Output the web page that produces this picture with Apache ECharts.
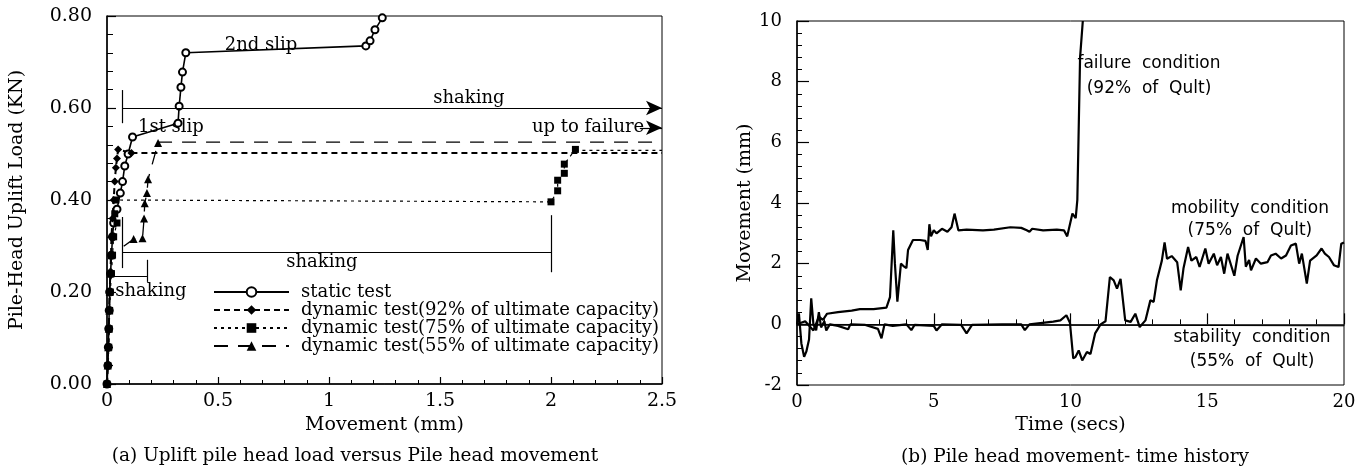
<!DOCTYPE html>
<html>
<head>
<meta charset="utf-8">
<script src="https://cdn.jsdelivr.net/npm/echarts@6/dist/echarts.min.js"></script>
<style>
  html, body { margin: 0; padding: 0; background: #fff; }
  #chart { width: 1371px; height: 474px; }
</style>
</head>
<body>
<div id="chart"></div>
<script>
// (a) load vs movement, [movement mm, load KN]
const staticTest = [[0,0],[0.004,0.04],[0.006,0.08],[0.008,0.12],[0.01,0.16],[0.012,0.2],[0.016,0.24],[0.02,0.28],
  [0.025,0.32],[0.03,0.35],[0.045,0.38],[0.06,0.415],[0.07,0.44],[0.08,0.474],[0.095,0.5],[0.115,0.537],
  [0.32,0.567],[0.325,0.604],[0.333,0.645],[0.34,0.678],[0.355,0.72],[1.166,0.735],[1.185,0.746],[1.207,0.77],[1.24,0.796]];
const dyn92 = [[0,0],[0.004,0.04],[0.006,0.08],[0.008,0.12],[0.01,0.16],[0.012,0.2],[0.015,0.24],[0.018,0.28],
  [0.02,0.32],[0.025,0.36],[0.03,0.4],[0.035,0.44],[0.04,0.47],[0.045,0.49],[0.05,0.51],[0.11,0.502]];
const dyn92Hold = [[0.11,0.502],[2.5,0.502]];
const dyn75 = [[0,0],[0.004,0.04],[0.008,0.08],[0.01,0.12],[0.012,0.16],[0.015,0.2],[0.02,0.24],[0.025,0.28],
  [0.03,0.32],[0.045,0.35],[0.035,0.37],[0.04,0.4],[2.0,0.396],[2.03,0.42],[2.03,0.443],[2.06,0.458],[2.06,0.478],[2.11,0.51]];
const dyn75Hold = [[2.11,0.508],[2.5,0.508]];
const dyn55 = [[0,0],[0.003,0.04],[0.005,0.08],[0.008,0.12],[0.01,0.16],[0.012,0.2],[0.015,0.24],[0.02,0.28],
  [0.12,0.315],[0.16,0.317],[0.167,0.36],[0.17,0.393],[0.18,0.415],[0.185,0.445],[0.23,0.524]];
const dyn55Hold = [[0.23,0.526],[2.5,0.526]];

// (b) movement time history, [time s, movement mm]
const failure = [[0,0],[0.3,0.1],[0.6,-0.2],[0.8,0.25],[0.95,0.15],[1.1,0.35],[1.5,0.4],[2.0,0.45],[2.3,0.5],[2.8,0.5],
  [3.27,0.55],[3.4,0.9],[3.52,3.1],[3.58,2.0],[3.67,0.75],[3.8,2.0],[3.92,1.9],[4.0,1.85],[4.06,2.45],[4.24,2.78],
  [4.5,2.78],[4.7,2.75],[4.78,2.45],[4.84,3.3],[4.9,2.9],[5.0,3.1],[5.1,3.0],[5.3,3.15],[5.5,3.05],[5.65,3.2],
  [5.76,3.65],[5.9,3.1],[6.2,3.12],[6.8,3.1],[7.2,3.12],[7.8,3.2],[8.2,3.18],[8.4,3.1],[8.5,3.05],[8.6,3.15],
  [9.0,3.1],[9.5,3.12],[9.76,3.1],[9.88,2.9],[10.07,3.65],[10.19,3.5],[10.25,4.1],[10.35,8.8],[10.45,10]];
const mobility = [[0,0],[0.07,0.36],[0.16,-0.63],[0.26,-1.07],[0.34,-0.9],[0.44,-0.5],[0.52,0.86],[0.6,0.0],[0.7,-0.2],
  [0.8,0.4],[0.88,-0.1],[1.0,0.1],[1.07,-0.2],[1.2,0.0],[1.5,-0.05],[1.87,-0.16],[1.95,0.0],[2.5,-0.02],[2.96,-0.15],
  [3.09,-0.46],[3.2,0.0],[3.5,-0.05],[4.0,0.0],[4.18,-0.19],[4.3,-0.02],[5.0,-0.05],[5.1,-0.2],[5.3,0.0],[6.0,-0.02],
  [6.2,-0.3],[6.4,-0.02],[7.5,0.0],[8.2,0.0],[8.33,-0.19],[8.5,0.0],[9.37,0.09],[9.63,0.13],[9.85,0.3],[9.98,0.05],
  [10.1,-1.12],[10.18,-1.08],[10.3,-0.86],[10.43,-1.19],[10.6,-0.91],[10.73,-0.98],[10.9,-0.3],[11.1,0.0],[11.28,0.1],
  [11.44,1.56],[11.58,1.45],[11.7,1.18],[11.83,1.5],[12.0,0.13],[12.2,0.08],[12.37,0.35],[12.53,-0.09],[12.74,0.13],
  [12.92,0.79],[13.04,0.74],[13.16,1.45],[13.34,2.1],[13.44,2.7],[13.53,2.16],[13.7,2.25],[13.9,2.05],[14.03,1.12],
  [14.13,1.84],[14.3,2.55],[14.42,2.1],[14.6,2.22],[14.72,1.89],[14.93,2.5],[15.05,2.0],[15.24,2.33],[15.36,1.95],
  [15.5,2.22],[15.62,1.67],[15.74,2.33],[15.99,1.6],[16.11,2.26],[16.33,2.88],[16.41,1.9],[16.53,2.12],[16.6,1.78],
  [16.78,2.17],[16.96,2.0],[17.2,2.05],[17.33,2.27],[17.5,2.33],[17.7,2.17],[17.88,2.27],[18.06,2.6],[18.24,2.66],
  [18.36,2.0],[18.46,2.33],[18.64,1.34],[18.76,2.1],[19.0,2.27],[19.18,2.5],[19.3,2.33],[19.45,2.22],[19.63,1.95],
  [19.8,1.89],[19.9,2.66],[20,2.7]];
const stability = [[0,0],[20,-0.05]];

// annotations
const shakingLines = [ // [x1,y1,x2,y2,arrow?]
  [0.07,0.6,2.5,0.6,true],[0.07,0.567,0.07,0.639,false],
  [2.4,0.557,2.5,0.557,true],
  [0.07,0.287,2.0,0.287,false],[0.07,0.252,0.07,0.363,false],[2.0,0.243,2.0,0.367,false],
  [0.03,0.235,0.18,0.235,false],[0.18,0.222,0.18,0.27,false]
];
const leftNotes = [[0.694,0.737,'2nd slip'],[0.288,0.559,'1st slip'],[1.63,0.622,'shaking'],
  [2.167,0.559,'up to failure'],[0.968,0.265,'shaking'],[0.198,0.202,'shaking']];
const rightNotes = [[12.87,8.6,'failure  condition'],[12.87,7.78,'(92%  of  Qult)'],
  [16.56,3.82,'mobility  condition'],[16.56,3.1,'(75%  of  Qult)'],
  [16.64,-0.43,'stability  condition'],[16.64,-1.22,'(55%  of  Qult)']];

const serif = 'DejaVu Serif';
const sans = 'DejaVu Sans';
const names = ['static test','dynamic test(92% of ultimate capacity)','dynamic test(75% of ultimate capacity)','dynamic test(55% of ultimate capacity)'];

const chart = echarts.init(document.getElementById('chart'));

function axisCommon(min, max, interval, tickLen, minorLen) {
  return {
    type: 'value', min, max, interval,
    axisLine: { lineStyle: { color: '#000', width: 1.5 } },
    axisTick: { inside: true, length: tickLen, lineStyle: { color: '#000', width: 1.2 } },
    minorTick: { show: true, splitNumber: 5, length: minorLen, lineStyle: { color: '#000', width: 1 } },
    splitLine: { show: false },
    nameTextStyle: { color: '#000', fontFamily: serif, fontSize: 19 }
  };
}

const markLines = shakingLines.map(s => [
  { coord: [s[0], s[1]], symbol: 'none' },
  { coord: [s[2], s[3]], symbol: s[4] ? 'arrow' : 'none', symbolSize: [11, 16] }
]);

const option = {
  animation: false,
  grid: [
    { left: 107, right: 709, top: 16, bottom: 90, show: true, borderColor: '#000', borderWidth: 1 },
    { left: 797, right: 27, top: 21, bottom: 89, show: true, borderColor: '#000', borderWidth: 1 }
  ],
  xAxis: [
    Object.assign(axisCommon(0, 2.5, 0.5, 7, 4), {
      gridIndex: 0, name: 'Movement (mm)', nameLocation: 'middle', nameGap: 27,
      axisLabel: { color: '#000', fontFamily: serif, fontSize: 19, margin: 8 }
    }),
    Object.assign(axisCommon(0, 20, 5, 11, 5), {
      gridIndex: 1, name: 'Time (secs)', nameLocation: 'middle', nameGap: 31,
      axisLabel: { color: '#000', fontFamily: serif, fontSize: 18, margin: 8 }
    })
  ],
  yAxis: [
    Object.assign(axisCommon(0, 0.8, 0.2, 9, 6), {
      gridIndex: 0, name: 'Pile-Head Uplift Load (KN)', nameLocation: 'middle', nameGap: 80,
      axisLabel: { color: '#000', fontFamily: serif, fontSize: 19, margin: 15, formatter: v => v.toFixed(2) }
    }),
    Object.assign(axisCommon(-2, 10, 2, 12, 5), {
      gridIndex: 1, name: 'Movement (mm)', nameLocation: 'middle', nameGap: 42,
      axisLabel: { color: '#000', fontFamily: serif, fontSize: 18, margin: 15 }
    })
  ],
  legend: {
    data: names, orient: 'vertical', left: 208, top: 278, itemGap: 0,
    itemWidth: 75, itemHeight: 12,
    textStyle: { color: '#000', fontFamily: serif, fontSize: 18, lineHeight: 17, padding: [0, 0, 0, 7] }
  },
  graphic: [
    { type: 'text', x: 355, y: 456, style: { text: '(a) Uplift pile head load versus Pile head movement', align: 'center', verticalAlign: 'middle', font: '18.5px "DejaVu Serif"', fill: '#000' } },
    { type: 'text', x: 1075, y: 457, style: { text: '(b) Pile head movement- time history', align: 'center', verticalAlign: 'middle', font: '18.5px "DejaVu Serif"', fill: '#000' } }
  ],
  series: [
    { name: names[0], type: 'line', xAxisIndex: 0, yAxisIndex: 0, data: staticTest,
      symbol: 'emptyCircle', symbolSize: 7, lineStyle: { color: '#000', width: 1.6 },
      itemStyle: { color: '#000', borderWidth: 1.2 },
      markLine: { silent: true, label: { show: false }, lineStyle: { color: '#000', width: 1.2, type: 'solid' }, data: markLines } },
    { name: names[1], type: 'line', xAxisIndex: 0, yAxisIndex: 0, data: dyn92,
      symbol: 'diamond', symbolSize: 8, lineStyle: { color: '#000', width: 2, type: [6, 4] }, itemStyle: { color: '#000' } },
    { name: 'hold92', type: 'line', xAxisIndex: 0, yAxisIndex: 0, data: dyn92Hold, symbol: 'none',
      lineStyle: { color: '#000', width: 2, type: [6, 4] } },
    { name: names[2], type: 'line', xAxisIndex: 0, yAxisIndex: 0, data: dyn75,
      symbol: 'rect', symbolSize: 7, lineStyle: { color: '#000', width: 1.2, type: [3, 4] }, itemStyle: { color: '#000' } },
    { name: 'hold75', type: 'line', xAxisIndex: 0, yAxisIndex: 0, data: dyn75Hold, symbol: 'none',
      lineStyle: { color: '#000', width: 1.2, type: [3, 4] } },
    { name: names[3], type: 'line', xAxisIndex: 0, yAxisIndex: 0, data: dyn55,
      symbol: 'triangle', symbolSize: 8, lineStyle: { color: '#000', width: 1.3, type: [14, 10] }, itemStyle: { color: '#000' } },
    { name: 'hold55', type: 'line', xAxisIndex: 0, yAxisIndex: 0, data: dyn55Hold, symbol: 'none',
      lineStyle: { color: '#000', width: 1.3, type: [14, 10] } },
    { name: 'notesA', type: 'scatter', xAxisIndex: 0, yAxisIndex: 0, data: leftNotes, symbolSize: 1,
      itemStyle: { color: 'rgba(0,0,0,0)', opacity: 1 }, silent: true,
      label: { show: true, position: 'inside', color: '#000', fontFamily: serif, fontSize: 18, formatter: p => p.value[2] } },

    { name: 'failure', type: 'line', xAxisIndex: 1, yAxisIndex: 1, data: failure, symbol: 'none',
      lineStyle: { color: '#000', width: 2.2 } },
    { name: 'mobility', type: 'line', xAxisIndex: 1, yAxisIndex: 1, data: mobility, symbol: 'none',
      lineStyle: { color: '#000', width: 2.2 } },
    { name: 'stability', type: 'line', xAxisIndex: 1, yAxisIndex: 1, data: stability, symbol: 'none',
      lineStyle: { color: '#000', width: 1 } },
    { name: 'notesB', type: 'scatter', xAxisIndex: 1, yAxisIndex: 1, data: rightNotes, symbolSize: 1,
      itemStyle: { color: 'rgba(0,0,0,0)', opacity: 1 }, silent: true,
      label: { show: true, position: 'inside', color: '#000', fontFamily: sans, fontSize: 17, formatter: p => p.value[2] } }
  ]
};

chart.setOption(option);
</script>
</body>
</html>
